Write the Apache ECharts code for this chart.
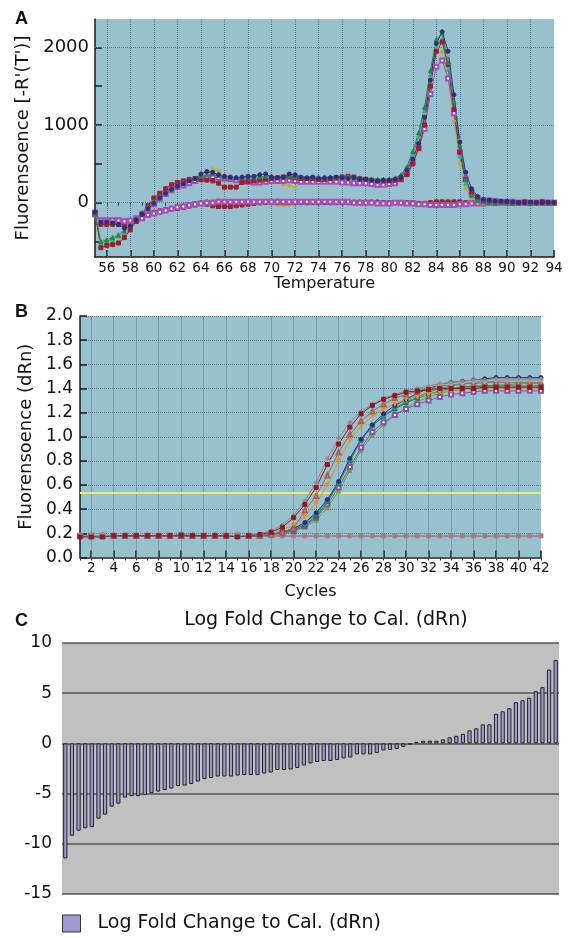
<!DOCTYPE html>
<html><head><meta charset="utf-8">
<script src="https://cdn.jsdelivr.net/npm/echarts@6/dist/echarts.min.js"></script>
<style>html,body{margin:0;padding:0;background:#fff}#c{width:575px;height:938px}</style>
</head><body><div id="c"></div>
<script>
// ---------- Panel A : melting curves ----------
const TEMP = [55,55.5,56,56.5,57,57.5,58,58.5,59,59.5,
  60,60.5,61,61.5,62,62.5,63,63.5,64,64.5,
  65,65.5,66,66.5,67,67.5,68,68.5,69,69.5,
  70,70.5,71,71.5,72,72.5,73,73.5,74,74.5,
  75,75.5,76,76.5,77,77.5,78,78.5,79,79.5,
  80,80.5,81,81.5,82,82.5,83,83.5,84,84.5,
  85,85.5,86,86.5,87,87.5,88,88.5,89,89.5,
  90,90.5,91,91.5,92,92.5,93,93.5,94];
const A_NAVY = [-120,-250,-250,-260,-280,-330,-300,-220,-150,-80,
  -10,60,120,170,210,240,280,310,370,400,
  390,360,340,330,320,330,340,340,360,370,
  330,320,330,370,360,330,320,330,310,320,
  320,330,320,310,320,300,300,290,280,290,
  290,300,330,420,560,760,1100,1580,2050,2200,
  1950,1390,780,390,180,80,40,30,20,20,
  10,10,0,0,5,0,0,5,0];
const A_RED = [-130,-580,-550,-540,-520,-450,-350,-240,-150,-40,
  60,120,180,230,260,280,300,310,300,290,
  280,250,200,200,200,260,270,280,290,300,
  310,320,330,330,320,310,310,310,300,300,
  310,320,330,340,330,310,300,290,280,280,
  280,290,300,360,500,700,1000,1500,1950,2070,
  1780,1200,650,300,130,60,30,20,10,10,
  10,0,0,10,0,0,10,0,0];
const A_GREEN = [-150,-500,-480,-450,-420,-360,-290,-210,-130,-50,
  20,90,140,190,230,260,290,310,340,360,
  370,350,330,320,320,320,330,330,330,340,
  340,330,330,340,340,330,330,330,330,320,
  330,330,340,340,330,320,310,300,300,300,
  300,320,360,460,660,900,1230,1700,2100,2180,
  1800,1300,740,300,100,30,10,0,-10,0,
  0,-10,0,0,-10,0,0,-10,0];
const A_TEAL = [-140,-520,-500,-470,-430,-380,-310,-230,-150,-70,
  0,70,120,170,210,240,270,300,330,350,
  360,340,320,310,310,320,320,320,320,330,
  330,330,320,320,320,320,320,320,320,310,
  310,320,320,320,310,300,290,290,280,280,
  280,300,340,440,620,860,1180,1650,2020,2100,
  1720,1150,600,250,90,30,10,0,0,0,
  0,0,0,0,0,0,0,0,0];
const A_OLIVE = [-150,-540,-530,-520,-500,-420,-320,-230,-140,-60,
  10,80,130,180,220,250,280,310,350,400,
  430,410,350,320,300,280,260,250,250,260,
  270,260,230,220,200,260,280,280,290,290,
  300,300,300,300,300,290,290,280,280,280,
  280,290,320,420,600,840,1150,1600,1940,1940,
  1600,1050,500,180,50,0,-10,0,0,0,
  0,0,0,0,0,0,0,0,0];
const A_MAG = [-150,-230,-230,-230,-230,-240,-230,-200,-150,-90,
  -20,50,110,160,200,220,250,280,300,320,
  330,320,310,300,290,280,270,260,260,270,
  280,280,280,290,280,270,270,270,270,270,
  270,270,260,260,250,250,250,240,230,230,
  240,250,300,380,520,700,950,1400,1750,1830,
  1600,1150,650,300,130,60,30,30,20,10,
  10,10,0,0,0,0,0,0,0];
const A_GREY = [-130,-490,-470,-440,-400,-340,-270,-200,-120,-40,
  30,100,160,200,240,270,300,320,340,370,
  390,370,350,340,330,330,330,330,330,330,
  330,330,330,330,320,320,320,320,320,320,
  320,320,320,310,310,300,300,300,290,290,
  290,300,330,430,610,850,1150,1620,2000,2080,
  1900,1380,800,380,150,60,30,20,10,10,
  0,0,0,0,0,0,0,0,0];
const A_NTC_RED = [-130,-280,-280,-280,-280,-280,-270,-240,-200,-160,
  -130,-110,-95,-85,-75,-60,-45,-30,-15,-20,
  -40,-50,-50,-50,-40,-30,-20,-10,0,0,
  0,0,0,0,0,0,0,0,0,0,
  0,0,0,0,0,0,0,0,0,0,
  0,0,0,0,0,-10,-10,0,10,10,
  10,10,10,0,0,0,0,0,0,10,
  0,0,0,0,0,0,10,0,0];
const A_NTC_OLIVE = [-140,-260,-260,-260,-250,-250,-240,-220,-190,-150,
  -120,-100,-90,-80,-70,-55,-40,-25,-10,10,
  30,40,30,10,0,0,-10,-10,0,0,
  -10,-30,-40,-30,-10,0,0,10,10,0,
  0,0,0,0,10,10,0,0,0,-10,
  -10,0,0,0,0,-10,0,10,0,0,
  0,-10,-10,0,0,0,0,0,0,0,
  0,0,0,0,0,0,0,0,0];
const A_NTC_MAG = [-130,-230,-230,-230,-230,-240,-240,-230,-200,-160,
  -140,-120,-100,-80,-60,-50,-35,-20,-10,0,
  0,10,10,10,10,10,10,10,10,10,
  10,10,10,10,10,10,10,10,10,10,
  10,10,10,10,0,0,0,0,-10,-10,
  -10,0,0,-10,-10,-20,-20,-30,-30,-30,
  -30,-30,-20,-20,-10,-10,-10,0,0,0,
  0,0,0,0,0,0,0,0,0];
const A_NTC_NAVY = [-120,-260,-260,-260,-255,-250,-240,-220,-190,-150,
  -120,-100,-85,-70,-55,-40,-25,-10,0,10,
  10,10,10,10,10,10,10,10,10,10,
  20,20,10,10,10,10,10,10,20,10,
  10,10,10,10,10,10,10,10,10,0,
  0,0,0,0,0,-10,-10,-10,-10,-10,
  -10,-10,-10,-10,0,0,0,0,0,0,
  0,0,0,0,0,0,0,0,0];
const A_NTC_TEAL = [-140,-270,-270,-265,-260,-255,-245,-225,-195,-160,
  -130,-110,-95,-80,-65,-50,-35,-20,-10,0,
  0,0,0,0,0,0,0,0,0,0,
  0,0,0,0,0,0,0,0,0,0,
  0,0,0,0,0,0,0,0,0,0,
  0,0,0,0,0,-10,-10,-10,-20,-20,
  -20,-20,-10,-10,0,0,0,0,0,0,
  0,0,0,0,0,0,0,0,0];
const A_XLABELS = [56,58,60,62,64,66,68,70,72,74,76,78,80,82,84,86,88,90,92,94];
const A_XGRID = [56,58,60,62,64,66,68,70,72,74,76,78,80,82,84,86,88,90,92];
const A_YLABELS = [0,1000,2000];
const A_YTICKS = [-500,0,500,1000,1500,2000];

// ---------- Panel B : amplification curves ----------
const CYCLES = [1,2,3,4,5,6,7,8,9,10,11,12,13,14,15,16,17,18,19,20,21,22,23,24,25,26,27,28,29,30,31,32,33,34,35,36,37,38,39,40,41,42];
const B_RED = [0.17,0.17,0.17,0.18,0.18,0.18,0.18,0.18,0.18,0.18,
  0.18,0.18,0.18,0.18,0.17,0.18,0.19,0.21,0.25,0.33,
  0.44,0.58,0.77,0.94,1.08,1.19,1.26,1.31,1.34,1.37,
  1.38,1.39,1.40,1.40,1.40,1.40,1.41,1.41,1.41,1.41,1.41,1.41];
const B_GREY = [0.18,0.18,0.18,0.18,0.18,0.18,0.18,0.18,0.18,0.18,
  0.18,0.18,0.18,0.18,0.18,0.18,0.20,0.22,0.27,0.35,
  0.47,0.62,0.82,0.99,1.12,1.21,1.27,1.32,1.35,1.38,
  1.40,1.42,1.44,1.45,1.46,1.47,1.47,1.48,1.48,1.48,1.48,1.48];
const B_LGREY = [0.18,0.18,0.18,0.18,0.18,0.18,0.18,0.18,0.18,0.18,
  0.18,0.18,0.18,0.18,0.18,0.18,0.19,0.21,0.26,0.34,
  0.46,0.60,0.80,0.97,1.10,1.20,1.26,1.31,1.35,1.38,
  1.40,1.42,1.43,1.44,1.45,1.46,1.46,1.47,1.47,1.47,1.47,1.47];
const B_BROWN = [0.18,0.18,0.18,0.18,0.18,0.18,0.18,0.18,0.18,0.18,
  0.18,0.18,0.18,0.18,0.18,0.18,0.18,0.19,0.21,0.24,
  0.39,0.51,0.68,0.87,1.02,1.13,1.21,1.27,1.32,1.35,
  1.38,1.40,1.42,1.43,1.44,1.44,1.45,1.45,1.45,1.45,1.45,1.45];
const B_ORANGE = [0.18,0.18,0.18,0.18,0.18,0.18,0.18,0.18,0.18,0.18,
  0.18,0.18,0.18,0.18,0.18,0.18,0.19,0.20,0.23,0.27,
  0.34,0.45,0.60,0.80,0.97,1.09,1.17,1.23,1.27,1.31,
  1.33,1.35,1.37,1.38,1.39,1.39,1.40,1.40,1.40,1.40,1.40,1.40];
const B_NAVY = [0.18,0.18,0.18,0.18,0.18,0.18,0.18,0.18,0.18,0.18,
  0.18,0.18,0.18,0.18,0.18,0.18,0.18,0.19,0.21,0.24,
  0.29,0.37,0.48,0.63,0.82,0.98,1.10,1.19,1.26,1.31,
  1.36,1.40,1.43,1.45,1.46,1.47,1.48,1.49,1.49,1.49,1.49,1.49];
const B_TEAL = [0.18,0.18,0.18,0.18,0.18,0.18,0.18,0.18,0.18,0.18,
  0.18,0.18,0.18,0.18,0.18,0.18,0.18,0.19,0.21,0.24,
  0.28,0.36,0.47,0.62,0.81,0.97,1.09,1.17,1.24,1.29,
  1.33,1.37,1.40,1.42,1.44,1.45,1.46,1.46,1.47,1.47,1.47,1.47];
const B_GREEN = [0.18,0.18,0.18,0.18,0.18,0.18,0.18,0.18,0.18,0.19,
  0.18,0.18,0.18,0.18,0.18,0.18,0.18,0.19,0.21,0.23,
  0.27,0.34,0.46,0.61,0.80,0.97,1.09,1.17,1.23,1.28,
  1.32,1.35,1.38,1.40,1.41,1.42,1.42,1.42,1.42,1.42,1.42,1.42];
const B_PURPLE = [0.18,0.18,0.18,0.18,0.18,0.18,0.18,0.18,0.18,0.18,
  0.18,0.18,0.18,0.18,0.18,0.18,0.18,0.19,0.20,0.22,
  0.26,0.33,0.44,0.58,0.75,0.91,1.04,1.12,1.18,1.23,
  1.27,1.30,1.33,1.35,1.36,1.37,1.38,1.38,1.38,1.38,1.38,1.38];
const B_LGREEN = [0.18,0.18,0.18,0.18,0.18,0.18,0.18,0.18,0.18,0.18,
  0.18,0.18,0.18,0.18,0.18,0.18,0.18,0.19,0.20,0.22,
  0.25,0.31,0.41,0.55,0.72,0.89,1.01,1.10,1.18,1.24,
  1.29,1.33,1.36,1.38,1.40,1.41,1.42,1.43,1.43,1.44,1.44,1.44];
const B_NTC1 = [0.18,0.18,0.18,0.18,0.18,0.18,0.18,0.18,0.18,0.18,
  0.18,0.18,0.18,0.18,0.18,0.18,0.18,0.18,0.18,0.18,
  0.18,0.18,0.18,0.18,0.18,0.18,0.18,0.18,0.18,0.18,
  0.18,0.18,0.18,0.18,0.18,0.18,0.18,0.18,0.18,0.18,0.18,0.18];
const B_NTC2 = [0.175,0.175,0.175,0.175,0.175,0.175,0.175,0.175,0.175,0.175,
  0.175,0.175,0.175,0.175,0.175,0.175,0.175,0.175,0.175,0.175,
  0.175,0.175,0.175,0.175,0.175,0.175,0.175,0.175,0.175,0.175,
  0.175,0.175,0.175,0.175,0.175,0.175,0.175,0.175,0.175,0.175,0.175,0.175];
const B_THRESHOLD = 0.54;
const B_XLABELS = [2,4,6,8,10,12,14,16,18,20,22,24,26,28,30,32,34,36,38,40,42];
const B_XGRID = [2,4,6,8,10,12,14,16,18,20,22,24,26,28,30,32,34,36,38,40];

// ---------- Panel C : log fold change ----------
const C_VALUES = [-11.45,-9.2,-8.7,-8.45,-8.35,-7.5,-7.1,-6.3,-6.0,-5.4,
  -5.25,-5.25,-5.15,-4.95,-4.8,-4.65,-4.5,-4.25,-4.2,-4.05,
  -3.8,-3.55,-3.45,-3.3,-3.3,-3.3,-3.2,-3.15,-3.15,-3.15,
  -3.0,-2.9,-2.65,-2.65,-2.6,-2.45,-2.2,-2.0,-1.85,-1.75,
  -1.75,-1.65,-1.5,-1.4,-1.1,-1.1,-1.1,-0.95,-0.7,-0.65,
  -0.55,-0.35,-0.1,
  0.15,0.27,0.27,0.27,0.4,0.6,0.75,0.95,1.3,1.5,1.9,
  1.9,2.95,3.2,3.5,4.1,4.3,4.55,5.2,5.6,7.35,8.3];
const C_CATS = C_VALUES.map((v, i) => String(i + 1));
const C_NAME = 'Log Fold Change to Cal. (dRn)';

// ---------- build ----------
const FONT = 'DejaVu Sans';
const PLOT_BG = '#98c1d0';
const GRID_C = '#5d7784';
const chart = echarts.init(document.getElementById('c'), null, {renderer: 'canvas'});

function lineSeries(name, xs, ys, color, symbol, xi, yi, extra) {
  return Object.assign({
    name, type: 'line', xAxisIndex: xi, yAxisIndex: yi,
    data: xs.map((x, i) => [x, ys[i]]),
    symbol, symbolSize: 4, showSymbol: true,
    lineStyle: {color, width: 1},
    itemStyle: {color, borderColor: color, borderWidth: 1},
    emphasis: {disabled: true}, animation: false, z: 3
  }, extra || {});
}

const dotted = {type: 'dotted', color: GRID_C, width: 1};
const aGridLines = A_XGRID.map(v => ({xAxis: v})).concat(A_YLABELS.map(v => ({yAxis: v})));
const bGridLines = B_XGRID.map(v => ({xAxis: v})).concat([{yAxis: B_THRESHOLD, lineStyle: {type: 'solid', color: '#e8ea78', width: 2}}]);

const series = [
  lineSeries('a1', TEMP, A_NTC_TEAL, '#35a7a6', 'circle', 0, 0, {markLine: {silent: true, z: 1, symbol: 'none', label: {show: false}, lineStyle: dotted, data: aGridLines, animation: false}}),
  lineSeries('a2', TEMP, A_NTC_NAVY, '#2c2f7c', 'circle', 0, 0),
  lineSeries('a3', TEMP, A_NTC_OLIVE, '#b9aa3e', 'diamond', 0, 0),
  lineSeries('a4', TEMP, A_NTC_RED, '#a01e2c', 'rect', 0, 0),
  lineSeries('a5', TEMP, A_NTC_MAG, '#a64db4', 'emptyRect', 0, 0),
  lineSeries('a6', TEMP, A_GREY, '#a3a3a3', 'diamond', 0, 0),
  lineSeries('a7', TEMP, A_OLIVE, '#b9aa3e', 'diamond', 0, 0),
  lineSeries('a8', TEMP, A_TEAL, '#35a7a6', 'triangle', 0, 0),
  lineSeries('a9', TEMP, A_MAG, '#a64db4', 'emptyRect', 0, 0),
  lineSeries('a10', TEMP, A_RED, '#a01e2c', 'rect', 0, 0),
  lineSeries('a11', TEMP, A_GREEN, '#1c8a4a', 'triangle', 0, 0),
  lineSeries('a12', TEMP, A_NAVY, '#2c2f7c', 'circle', 0, 0),

  lineSeries('b1', CYCLES, B_NTC1, '#7d978c', 'rect', 2, 1, {markLine: {silent: true, z: 1, symbol: 'none', label: {show: false}, lineStyle: dotted, data: bGridLines, animation: false}}),
  lineSeries('b2', CYCLES, B_NTC2, '#c06a8a', 'rect', 2, 1, {symbolSize: 2.5}),
  lineSeries('b3', CYCLES, B_LGREEN, '#6f9f3c', 'triangle', 2, 1),
  lineSeries('b4', CYCLES, B_PURPLE, '#8a50a8', 'emptyRect', 2, 1),
  lineSeries('b5', CYCLES, B_GREEN, '#1d7a3c', 'rect', 2, 1),
  lineSeries('b6', CYCLES, B_TEAL, '#2b8d9c', 'circle', 2, 1),
  lineSeries('b7', CYCLES, B_NAVY, '#2a3070', 'circle', 2, 1),
  lineSeries('b8', CYCLES, B_ORANGE, '#f08a1e', 'triangle', 2, 1, {symbolRotate: 180}),
  lineSeries('b9', CYCLES, B_BROWN, '#a86058', 'emptyTriangle', 2, 1),
  lineSeries('b10', CYCLES, B_LGREY, '#b0b0b0', 'circle', 2, 1),
  lineSeries('b11', CYCLES, B_GREY, '#8c8c8c', 'diamond', 2, 1),
  lineSeries('b12', CYCLES, B_RED, '#8e1b22', 'rect', 2, 1),

  {
    name: C_NAME, type: 'bar', xAxisIndex: 4, yAxisIndex: 2,
    data: C_VALUES, barWidth: '64%',
    itemStyle: {color: '#9b9bd2', borderColor: '#222', borderWidth: 1},
    emphasis: {disabled: true}, animation: false, z: 3
  }
];

const axisLineDark = {show: true, onZero: false, lineStyle: {color: '#1a1a1a', width: 1.5}};
const lbl = (size, extra) => Object.assign({fontFamily: FONT, fontSize: size, color: '#111'}, extra || {});

const option = {
  animation: false,
  backgroundColor: '#fff',
  grid: [
    {left: 95, top: 19, right: 21, height: 238, show: true, backgroundColor: PLOT_BG, borderWidth: 0},
    {left: 80, top: 316, right: 34, height: 241.5, show: true, backgroundColor: PLOT_BG, borderWidth: 0},
    {left: 62, top: 643, right: 16, height: 251, show: true, backgroundColor: '#c0c0c0', borderWidth: 0}
  ],
  xAxis: [
    {type: 'value', gridIndex: 0, min: 55, max: 94,
      axisLine: axisLineDark,
      axisTick: {inside: true, length: 7, customValues: A_XLABELS, lineStyle: {color: '#1a1a1a', width: 1.5}},
      axisLabel: lbl(13.5, {customValues: A_XLABELS, margin: 4, formatter: v => String(v)}),
      splitLine: {show: false},
      name: 'Temperature', nameLocation: 'middle', nameGap: 19, nameTextStyle: lbl(16)},
    {type: 'value', gridIndex: 0, min: 55, max: 94, interval: 1,
      axisLine: {show: false}, axisLabel: {show: false}, splitLine: {show: false},
      axisTick: {inside: true, length: 3, lineStyle: {color: '#333', width: 1}}},
    {type: 'value', gridIndex: 1, min: 1, max: 42,
      axisLine: {show: true, onZero: false, lineStyle: {color: '#555', width: 2}},
      axisTick: {inside: true, length: 7, customValues: B_XLABELS, lineStyle: {color: '#1a1a1a', width: 1.5}},
      axisLabel: lbl(13.5, {customValues: B_XLABELS, margin: 4, formatter: v => String(v)}),
      splitLine: {show: false},
      name: 'Cycles', nameLocation: 'middle', nameGap: 26, nameTextStyle: lbl(16)},
    {type: 'value', gridIndex: 1, min: 1, max: 42, interval: 1,
      axisLine: {show: false}, axisLabel: {show: false}, splitLine: {show: false},
      axisTick: {inside: true, length: 3, lineStyle: {color: '#333', width: 1}}},
    {type: 'category', gridIndex: 2, data: C_CATS,
      axisLine: {show: false}, axisTick: {show: false}, axisLabel: {show: false}, splitLine: {show: false}}
  ],
  yAxis: [
    {type: 'value', gridIndex: 0, min: -700, max: 2365,
      axisLine: axisLineDark,
      axisTick: {inside: true, length: 7, customValues: A_YTICKS, lineStyle: {color: '#1a1a1a', width: 1.5}},
      axisLabel: lbl(18, {customValues: A_YLABELS, margin: 6, formatter: v => String(v)}),
      splitLine: {show: false},
      name: "Fluorensoence [-R'(T')]", nameLocation: 'middle', nameGap: 60, nameTextStyle: lbl(18)},
    {type: 'value', gridIndex: 1, min: 0, max: 2, interval: 0.2,
      axisLine: axisLineDark,
      axisTick: {inside: true, length: 7, lineStyle: {color: '#1a1a1a', width: 1.5}},
      axisLabel: lbl(17, {margin: 7, formatter: v => v.toFixed(1)}),
      splitLine: {show: true, lineStyle: dotted},
      name: 'Fluorensoence (dRn)', nameLocation: 'middle', nameGap: 44, nameTextStyle: lbl(18)},
    {type: 'value', gridIndex: 2, min: -15, max: 10, interval: 5,
      axisLine: {show: false}, axisTick: {show: false},
      axisLabel: lbl(17, {margin: 10}),
      splitLine: {show: true, lineStyle: {color: '#555', width: 1.5}}}
  ],
  legend: {
    data: [C_NAME], left: 62, top: 914, padding: 0, itemWidth: 18, itemHeight: 17, icon: 'rect',
    selectedMode: false,
    itemStyle: {color: '#9b9bd2', borderColor: '#333', borderWidth: 1},
    textStyle: lbl(19, {padding: [0, 0, 0, 12]})
  },
  graphic: [
    {type: 'text', left: 15, top: 10, style: {text: 'A', font: 'bold 18px "Liberation Sans"', fill: '#111'}},
    {type: 'text', left: 15, top: 303, style: {text: 'B', font: 'bold 18px "Liberation Sans"', fill: '#111'}},
    {type: 'text', left: 15, top: 612, style: {text: 'C', font: 'bold 18px "Liberation Sans"', fill: '#111'}},
    {type: 'text', x: 326, y: 620, style: {text: C_NAME, font: '19px "DejaVu Sans"', fill: '#111', textAlign: 'center', textVerticalAlign: 'middle'}}
  ],
  series
};
chart.setOption(option);
</script></body></html>
